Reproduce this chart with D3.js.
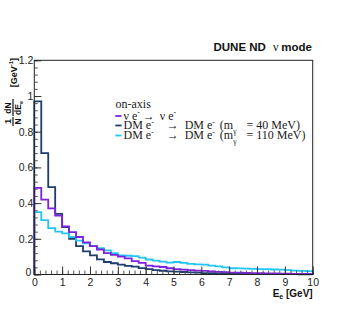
<!DOCTYPE html>
<html>
<head>
<meta charset="utf-8">
<script src="https://cdn.jsdelivr.net/npm/d3@7"></script>
<style>
  html, body { margin: 0; padding: 0; background: #fff; }
  svg { display: block; }
</style>
</head>
<body>
<div id="chart"></div>
<script>
// bin edges: 40 bins of 0.25 GeV from 0 to 10
const binWidth = 0.25;
const nuE = [0.485, 0.42, 0.37, 0.33, 0.27, 0.237, 0.21, 0.18, 0.159, 0.14,
             0.12, 0.11, 0.1, 0.09, 0.075, 0.065, 0.05, 0.045, 0.042, 0.035,
             0.03, 0.027, 0.024, 0.022, 0.02, 0.017, 0.015, 0.013, 0.011, 0.01,
             0.009, 0.008, 0.007, 0.006, 0.006, 0.005, 0.005, 0.004, 0.004, 0.003];
const dm40 = [0.97, 0.68, 0.49, 0.34, 0.265, 0.2, 0.159, 0.13, 0.107, 0.085,
              0.07, 0.063, 0.055, 0.048, 0.044, 0.036, 0.03, 0.025, 0.021, 0.018,
              0.016, 0.014, 0.012, 0.01, 0.008, 0.007, 0.006, 0.005, 0.005, 0.004,
              0.004, 0.003, 0.003, 0.003, 0.002, 0.002, 0.002, 0.002, 0.001, 0.001];
const dm110 = [0.35, 0.305, 0.26, 0.24, 0.23, 0.21, 0.19, 0.175, 0.16, 0.147,
               0.135, 0.12, 0.107, 0.105, 0.103, 0.095, 0.084, 0.078, 0.072, 0.066,
               0.07, 0.065, 0.06, 0.057, 0.055, 0.05, 0.045, 0.04, 0.035, 0.034,
               0.033, 0.032, 0.03, 0.03, 0.028, 0.027, 0.025, 0.022, 0.02, 0.019];

const xTicks = [0, 1, 2, 3, 4, 5, 6, 7, 8, 9, 10];
const yTicks = [0, 0.2, 0.4, 0.6, 0.8, 1, 1.2];

const series = [
    { name: "dm40", values: dm40, color: "#1d3c70" },
    { name: "dm110", values: dm110, color: "#22c6f5" },
    { name: "nue", values: nuE, color: "#7e22e0" }
];

const width = 347, height = 336;
const margin = { top: 60.3, right: 34.3, bottom: 61.5, left: 34.3 };

const xScale = d3.scaleLinear()
    .domain([0, 10])
    .range([margin.left, width - margin.right]);
const yScale = d3.scaleLinear()
    .domain([0, 1.2])
    .range([height - margin.bottom, margin.top]);

const svg = d3.select("#chart")
    .append("svg")
    .attr("width", width)
    .attr("height", height)
    .attr("font-family", "'Liberation Sans', Arial, sans-serif");

// histograms as steps
const stepPath = vals => {
    let p = `M${xScale(0)},${yScale(0)}`;
    vals.forEach((v, i) => {
        p += `L${xScale(i * binWidth)},${yScale(v)}L${xScale((i + 1) * binWidth)},${yScale(v)}`;
    });
    p += `L${xScale(10)},${yScale(0)}`;
    return p;
};

svg.append("g")
    .selectAll("path")
    .data(series)
    .join("path")
    .attr("d", d => stepPath(d.values))
    .attr("fill", "none")
    .attr("stroke", d => d.color)
    .attr("stroke-width", 1.8);

// axes (ticks inward)
const minorX = d3.range(0, 10.001, 0.2);
const minorY = d3.range(0, 1.2001, 0.04);

const xAxisMinor = g => g
    .attr("transform", `translate(0,${yScale(0)})`)
    .call(d3.axisBottom(xScale).tickValues(minorX).tickSize(-4).tickFormat(""))
    .call(g => g.select(".domain").remove());
const xAxis = g => g
    .attr("transform", `translate(0,${yScale(0)})`)
    .call(d3.axisBottom(xScale).tickValues(xTicks).tickSize(-8).tickPadding(4).tickFormat(d3.format("d")))
    .call(g => g.select(".domain").remove())
    .call(g => g.selectAll("text").attr("font-size", 10.5).attr("fill", "#222"));

const yAxisMinor = g => g
    .attr("transform", `translate(${xScale(0)},0)`)
    .call(d3.axisLeft(yScale).tickValues(minorY).tickSize(-3.5).tickFormat(""))
    .call(g => g.select(".domain").remove());
const yAxis = g => g
    .attr("transform", `translate(${xScale(0)},0)`)
    .call(d3.axisLeft(yScale).tickValues(yTicks).tickSize(-7).tickPadding(1).tickFormat(d => d === 0 ? "0" : d3.format(".1f")(d).replace(/^1\.0$/, "1")))
    .call(g => g.select(".domain").remove())
    .call(g => g.selectAll("text").attr("font-size", 10.5).attr("fill", "#222"))
    .call(g => g.selectAll("text").filter(d => d === 0).attr("dy", "0.05em").attr("dx", -2));

svg.append("g").call(xAxisMinor).selectAll("line").attr("stroke", "#555");
svg.append("g").call(xAxis).selectAll("line").attr("stroke", "#333");
svg.append("g").call(yAxisMinor).selectAll("line").attr("stroke", "#555");
svg.append("g").call(yAxis).selectAll("line").attr("stroke", "#333");

// frame
svg.append("rect")
    .attr("x", xScale(0))
    .attr("y", yScale(1.2))
    .attr("width", xScale(10) - xScale(0))
    .attr("height", yScale(0) - yScale(1.2))
    .attr("fill", "none")
    .attr("stroke", "#222")
    .attr("stroke-width", 1);

// title
const title = svg.append("text")
    .attr("x", 312)
    .attr("y", 50.7)
    .attr("text-anchor", "end")
    .attr("font-size", 11.5)
    .attr("font-weight", "bold")
    .attr("fill", "#111");
title.append("tspan").text("DUNE ND");
title.append("tspan").attr("dx", 7).attr("font-family", "'Liberation Serif', serif").attr("font-weight", "normal").attr("font-size", 12).text("ν");
title.append("tspan").attr("dx", 3).text("mode");

// x title
const xTitle = svg.append("text")
    .attr("x", xScale(10))
    .attr("y", 297)
    .attr("text-anchor", "end")
    .attr("font-size", 10)
    .attr("font-weight", "bold")
    .attr("fill", "#111");
xTitle.append("tspan").text("E");
xTitle.append("tspan").attr("font-size", 7).attr("dy", 2).text("e");
xTitle.append("tspan").attr("dy", -2).text(" [GeV]");

// y title (rotated, fractions)
const yt = svg.append("g")
    .attr("transform", "rotate(-90)")
    .attr("font-weight", "bold")
    .attr("fill", "#111");
yt.append("text").attr("x", -121.5).attr("y", 11).attr("text-anchor", "middle").attr("font-size", 8.5).text("1");
yt.append("line").attr("x1", -126).attr("x2", -117).attr("y1", 13).attr("y2", 13).attr("stroke", "#111").attr("stroke-width", 1.2);
yt.append("text").attr("x", -121.5).attr("y", 21).attr("text-anchor", "middle").attr("font-size", 8.5).text("N");
yt.append("text").attr("x", -108).attr("y", 11).attr("text-anchor", "middle").attr("font-size", 8.5).text("dN");
yt.append("line").attr("x1", -116).attr("x2", -99).attr("y1", 13).attr("y2", 13).attr("stroke", "#111").attr("stroke-width", 1.2);
const de = yt.append("text").attr("x", -108).attr("y", 21).attr("text-anchor", "middle").attr("font-size", 8.5);
de.append("tspan").text("dE");
de.append("tspan").attr("font-size", 5.5).attr("dy", 1.5).text("e");
const gev = yt.append("text").attr("x", -58).attr("y", 16.5).attr("text-anchor", "end").attr("font-size", 9);
gev.append("tspan").text("[GeV");
gev.append("tspan").attr("font-size", 6).attr("dy", -3.5).text("-1");
gev.append("tspan").attr("dy", 3.5).text("]");

// legend
const legend = svg.append("g")
    .attr("font-family", "'Liberation Serif', 'Times New Roman', serif")
    .attr("font-size", 12)
    .attr("fill", "#222");

legend.append("text").attr("x", 115.5).attr("y", 107.5).attr("font-size", 12).text("on-axis");

const legendRows = [
    { color: series[2].color, ly: 116, ty: 119.5 },
    { color: series[0].color, ly: 125.5, ty: 129 },
    { color: series[1].color, ly: 135.5, ty: 139 }
];

legend.selectAll("line")
    .data(legendRows)
    .join("line")
    .attr("x1", 115.3)
    .attr("x2", 121.5)
    .attr("y1", d => d.ly)
    .attr("y2", d => d.ly)
    .attr("stroke", d => d.color)
    .attr("stroke-width", 1.8);

const t1 = legend.append("text").attr("x", 123.5).attr("y", legendRows[0].ty);
t1.append("tspan").text("ν e");
t1.append("tspan").attr("font-size", 7.5).attr("dy", -4.5).text("-");
t1.append("tspan").attr("dy", 4.5).attr("dx", 3).text("→");
t1.append("tspan").attr("dx", 5).text("ν e");
t1.append("tspan").attr("font-size", 7.5).attr("dy", -4.5).text("-");

const dmRow = (row, mass) => {
    const t = legend.append("text").attr("x", 123.5).attr("y", row.ty);
    t.append("tspan").text("DM e");
    t.append("tspan").attr("font-size", 7.5).attr("dy", -4.5).text("-");
    t.append("tspan").attr("dy", 4.5).attr("dx", 13).text("→");
    t.append("tspan").attr("dx", 6).text("DM e");
    t.append("tspan").attr("font-size", 7.5).attr("dy", -4.5).text("-");
    t.append("tspan").attr("dy", 4.5).attr("dx", 5).text("(m");
    t.append("tspan").attr("font-size", 7.5).attr("dy", 4.5).text("γ");
    t.append("tspan").attr("dy", -4.5).attr("dx", 10).text("= " + mass + " MeV)");
};
dmRow(legendRows[1], 40);
dmRow(legendRows[2], 110);
</script>
</body>
</html>
